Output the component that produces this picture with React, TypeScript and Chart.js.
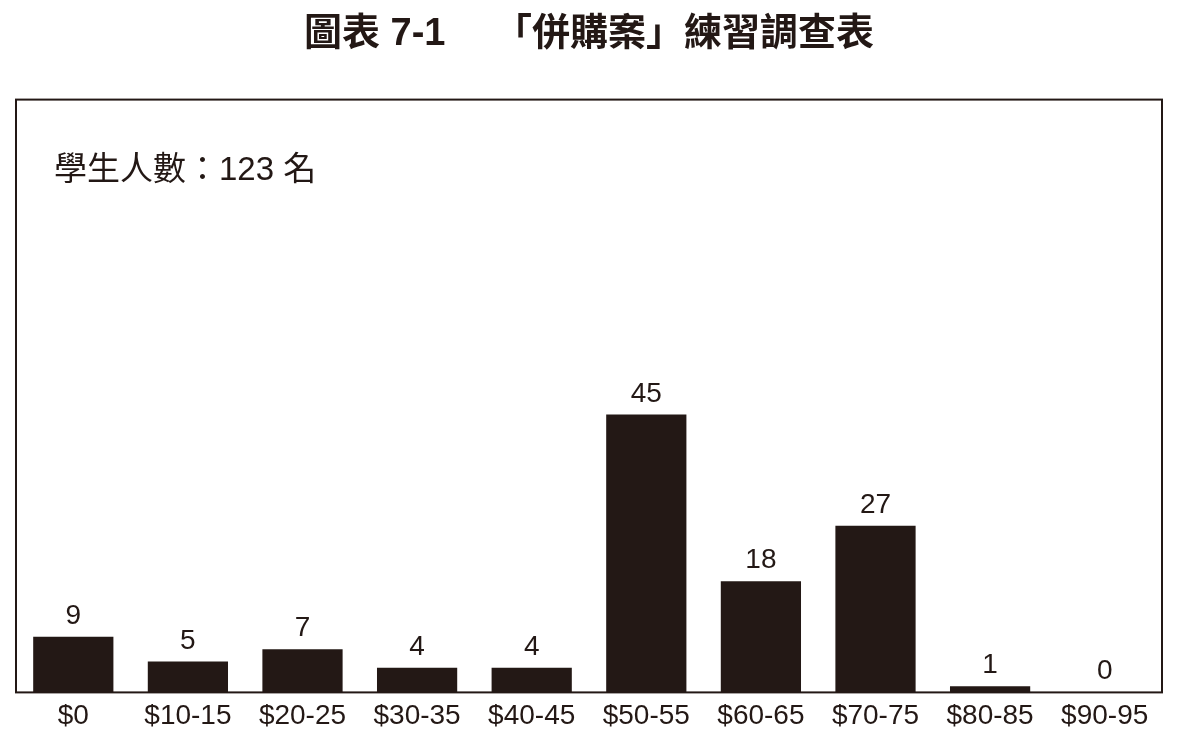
import React, { useEffect, useRef } from "react";
import { Chart, registerables } from "chart.js";

Chart.register(...registerables);

const categories = ["$0", "$10-15", "$20-25", "$30-35", "$40-45", "$50-55", "$60-65", "$70-75", "$80-85", "$90-95"];
const counts = [9, 5, 7, 4, 4, 45, 18, 27, 1, 0];
const titleText = "圖表 7-1　 「併購案」練習調查表";
const noteText = "學生人數：123 名";
const yMax = 96;

const INK = "#231815";
const LATIN = "'Liberation Sans', Arial, 'Noto Sans CJK TC', sans-serif";
const CJK = "'Liberation Sans', 'Noto Sans CJK TC', 'Noto Sans CJK SC', sans-serif";

const framePlugin = {
  id: "frameAndLabels",
  afterDatasetsDraw(chart: any) {
    const { ctx, chartArea } = chart;
    const { left, top, right, bottom } = chartArea;
    ctx.save();
    ctx.strokeStyle = INK;
    ctx.lineWidth = 2;
    ctx.strokeRect(left, top, right - left, bottom - top);

    // value labels
    const meta = chart.getDatasetMeta(0);
    ctx.fillStyle = INK;
    ctx.font = `28px ${LATIN}`;
    ctx.textAlign = "center";
    ctx.textBaseline = "alphabetic";
    meta.data.forEach((bar: any, i: number) => {
      ctx.fillText(String(counts[i]), bar.x, bar.y - 13);
    });

    // note
    ctx.textAlign = "left";
    ctx.textBaseline = "middle";
    ctx.font = `33px ${CJK}`;
    ctx.fillText(noteText, left + 38, top + 71);
    ctx.restore();
  },
};

export default function App() {
  const ref = useRef<HTMLCanvasElement | null>(null);
  useEffect(() => {
    if (!ref.current) return;
    const chart = new Chart(ref.current, {
      type: "bar",
      data: {
        labels: categories,
        datasets: [
          {
            data: counts,
            backgroundColor: INK,
            borderWidth: 0,
            barPercentage: 0.7,
            categoryPercentage: 1,
          },
        ],
      },
      options: {
        responsive: false,
        animation: false,
        layout: { padding: { top: 0, left: 16, right: 18, bottom: 0 } },
        plugins: {
          legend: { display: false },
          tooltip: { enabled: false },
          title: {
            display: true,
            text: titleText,
            color: INK,
            font: { family: CJK, size: 38, weight: "bold", lineHeight: 1.2 },
            padding: { top: 12, bottom: 42 },
          },
        },
        scales: {
          x: {
            grid: { display: false, drawTicks: false },
            border: { display: false },
            ticks: {
              color: INK,
              font: { family: LATIN, size: 28 },
              padding: 7,
              maxRotation: 0,
              autoSkip: false,
            },
          },
          y: {
            display: false,
            min: 0,
            max: yMax,
          },
        },
      },
      plugins: [framePlugin],
    });
    return () => chart.destroy();
  }, []);
  return (
    <div style={{ position: "fixed", left: 0, top: 0, width: 1180, height: 740, background: "#fff" }}>
      <canvas ref={ref} width={1180} height={740} style={{ width: 1180, height: 740 }} />
    </div>
  );
}
